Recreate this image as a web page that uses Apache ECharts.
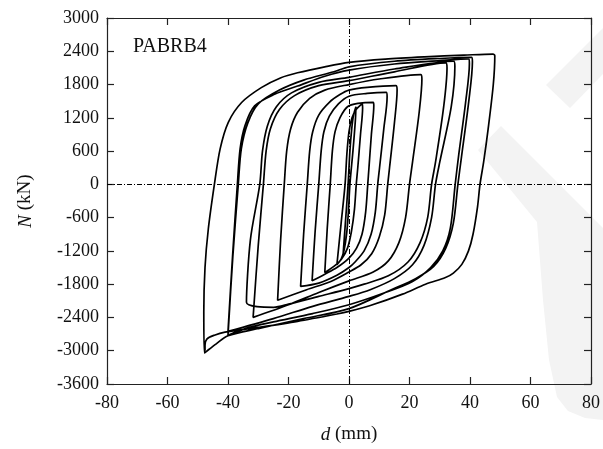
<!DOCTYPE html>
<html><head><meta charset="utf-8">
<script src="https://cdn.jsdelivr.net/npm/echarts@6/dist/echarts.min.js"></script>
<style>html,body{margin:0;padding:0;background:#fff;}#c{width:603px;height:449px;}</style>
</head><body><div id="c"></div>
<script>
// axis ticks
const xTicks = [-80, -60, -40, -20, 0, 20, 40, 60, 80];
const yTicks = [-3600, -3000, -2400, -1800, -1200, -600, 0, 600, 1200, 1800, 2400, 3000];
const specimen = 'PABRB4';

// hysteresis cycles [d (mm), N (kN)]
const cycle0 = [[-2,-1300],[-1.2,-700],[-0.3,0],[0.3,600],[0.9,1000],[1.5,1250],[2.3,1400],[2.1,1150],[1.3,600],[0.3,0],[-0.2,-500],[-0.8,-900],[-1.6,-1180],[-2.6,-1350],[-4,-1450]];
const cycle1 = [[-4,-1450],[-2.6,-700],[-1.3,0],[-0.7,550],[0,950],[1,1200],[2.5,1360],[4.4,1450],[4.5,1380],[3.8,900],[2.9,300],[2.4,0],[1.8,-450],[0.8,-850],[-0.5,-1150],[-2.5,-1350],[-5,-1480],[-8,-1590]];
const cycle2 = [[-8,-1590],[-7.2,-800],[-6.2,0],[-5.5,600],[-4.6,950],[-3,1200],[-0.5,1400],[3,1460],[8,1480],[8.2,1420],[7.4,900],[6.6,300],[6.2,0],[5.5,-500],[4.3,-900],[2.5,-1150],[0,-1330],[-4,-1500],[-8,-1620],[-12.2,-1740]];
const cycle3 = [[-12.2,-1740],[-11.2,-850],[-10,0],[-9.2,600],[-8.3,950],[-6.5,1230],[-3.5,1450],[0,1590],[6,1640],[12.3,1660],[12.6,1580],[11.5,1000],[10.1,300],[9.5,0],[8.7,-500],[7.3,-900],[5,-1200],[2,-1400],[0,-1500],[-4,-1640],[-10,-1780],[-16,-1840]];
const cycle4 = [[-16,-1840],[-15,-900],[-13.8,0],[-13,600],[-12,950],[-10,1250],[-6.5,1480],[-3,1620],[0,1700],[6,1750],[15.5,1780],[15.9,1700],[15,1100],[13.4,300],[12.8,0],[11.8,-550],[10,-950],[7.5,-1250],[4,-1450],[0,-1580],[-6,-1750],[-14,-1900],[-23.6,-2090]];
const cycle5 = [[-23.6,-2090],[-22.6,-1000],[-21.4,0],[-20.6,600],[-19.3,1000],[-17,1300],[-13,1550],[-8,1700],[0,1800],[10,1900],[23.7,1980],[24.1,1900],[23.2,1300],[21,400],[20,0],[18.7,-600],[16.5,-1050],[13,-1380],[8,-1580],[0,-1740],[-10,-1950],[-20,-2170],[-31.7,-2398]];
const cycle6 = [[-31.7,-2398],[-30,-1100],[-28.3,0],[-27.4,600],[-26,1000],[-23,1350],[-18,1600],[-10,1780],[0,1870],[15,2030],[32,2190],[32.4,2100],[31.3,1400],[28.6,400],[27.3,0],[26,-600],[23.5,-1050],[19.5,-1400],[13,-1650],[5,-1800],[0,-1880],[-10,-2020],[-20,-2160],[-24.9,-2217],[-33.9,-2128]];
const cycle7 = [[-33.9,-2128],[-32.6,-1000],[-29.5,0],[-28.6,600],[-27,1050],[-24,1400],[-19,1650],[-10,1840],[0,1930],[15,2080],[34.6,2220],[35,2130],[33.8,1400],[30,400],[28.6,0],[27.3,-600],[24.8,-1100],[21,-1450],[15,-1700],[7,-1900],[0,-2020],[-12,-2200],[-25,-2420],[-40,-2650]];
const cycle8 = [[-40,-2650],[-38.5,-1300],[-36.9,0],[-36,640],[-34.4,1058],[-31.2,1415],[-24.6,1624],[-17,1773],[-8,1950],[0,2060],[15,2170],[30,2230],[39.5,2262],[39.8,2180],[38.6,1500],[36.2,500],[35.1,0],[33.5,-790],[31,-1200],[27,-1500],[21,-1750],[12,-1950],[0,-2170],[-12,-2330],[-25,-2480],[-33,-2580],[-40,-2720]];
const cycle9 = [[-40,-2720],[-38.4,-1300],[-36.6,0],[-35.6,640],[-33.5,1100],[-30,1450],[-23,1700],[-15,1880],[-5,2030],[0,2120],[15,2220],[30,2270],[40.5,2290],[40.8,2210],[39.6,1500],[37.2,500],[36,0],[34.5,-700],[32,-1150],[28,-1480],[22,-1700],[14,-1900],[0,-2240],[-15,-2420],[-30,-2600],[-40,-2730],[-44,-2880],[-47.8,-3040]];
const cycle10 = [[-47.8,-3040],[-48,-2300],[-47.6,-1500],[-46.5,-800],[-44.5,0],[-42.6,640],[-39.9,1119],[-35.5,1476],[-29,1744],[-22.5,1923],[-17,2012],[-8,2120],[0,2200],[12,2260],[25,2300],[38,2330],[47.6,2350],[48.2,2320],[47.7,1800],[46,1000],[44.5,400],[43.3,0],[42.5,-400],[41,-900],[39.5,-1200],[37.3,-1443],[34.5,-1600],[31.9,-1680],[25.3,-1800],[17.7,-1980],[6.8,-2190],[0,-2290],[-4,-2337],[-17,-2470],[-30,-2580],[-41,-2665],[-44.5,-2720],[-47,-2790],[-47.6,-2900],[-47.6,-3000]];

const cycles = [cycle0, cycle1, cycle2, cycle3, cycle4, cycle5, cycle6, cycle7, cycle8, cycle9, cycle10];
const path = [].concat(...cycles);

const chart = echarts.init(document.getElementById('c'), null, {renderer: 'canvas'});
const font = 'Liberation Serif';
const txt = '#111';
const axisCommon = {
  axisLine: {show: true, onZero: false, lineStyle: {color: '#222', width: 1.2}},
  axisTick: {show: true, inside: true, length: 7, lineStyle: {color: '#222', width: 1.2}},
  splitLine: {show: false}
};
const plain = v => String(v);
chart.setOption({
  animation: false,
  backgroundColor: '#fff',
  graphic: [
    {type: 'polygon', z: -10, shape: {points: [[546,85],[603,28],[603,74],[570,108]]}, style: {fill: '#f3f3f3'}, silent: true},
    {type: 'polygon', z: -10, shape: {points: [[478,150],[501,126],[603,228],[603,420],[585,418],[568,411],[557,397],[549,360],[543,300],[537,222]]}, style: {fill: '#f3f3f3'}, silent: true},
    {type: 'text', left: 133, top: 37, style: {text: specimen, font: '20px "Liberation Serif"', fill: txt}}
  ],
  grid: {left: 107, top: 18, right: 5.3, bottom: 61.7, containLabel: false},
  xAxis: [
    Object.assign({type: 'value', min: xTicks[0], max: xTicks[xTicks.length-1], interval: 20, position: 'bottom',
      name: '{i|d} (mm)', nameLocation: 'middle', nameGap: 41,
      nameTextStyle: {fontFamily: font, fontSize: 19, color: txt, rich: {i: {fontFamily: font, fontStyle: 'italic', fontSize: 19, color: txt}}},
      axisLabel: {fontFamily: font, fontSize: 18, color: txt, margin: 10, formatter: plain}}, axisCommon),
    Object.assign({type: 'value', min: -80, max: 80, interval: 20, position: 'top', axisLabel: {show: false}}, axisCommon)
  ],
  yAxis: [
    Object.assign({type: 'value', min: yTicks[0], max: yTicks[yTicks.length-1], interval: 600, position: 'left',
      name: '{i|N} (kN)', nameLocation: 'middle', nameGap: 72, nameRotate: 90,
      nameTextStyle: {fontFamily: font, fontSize: 19, color: txt, rich: {i: {fontFamily: font, fontStyle: 'italic', fontSize: 19, color: txt}}},
      axisLabel: {fontFamily: font, fontSize: 18, color: txt, margin: 8, formatter: plain}}, axisCommon),
    Object.assign({type: 'value', min: -3600, max: 3000, interval: 600, position: 'right', axisLabel: {show: false}}, axisCommon)
  ],
  series: [{
    type: 'line',
    data: path,
    showSymbol: false,
    smooth: 0.3,
    lineStyle: {color: '#000', width: 1.7},
    markLine: {
      silent: true, symbol: 'none', label: {show: false},
      lineStyle: {color: '#000', width: 1, type: [5, 2, 1, 2]},
      data: [{xAxis: 0}, {yAxis: 0}]
    }
  }]
});
</script></body></html>
